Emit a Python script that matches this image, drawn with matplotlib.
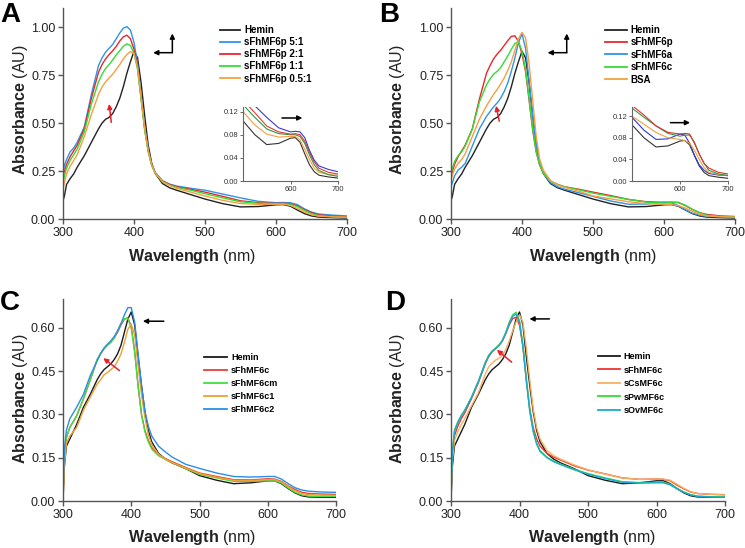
import numpy as np
import matplotlib
matplotlib.use('Agg')
import matplotlib.pyplot as plt

plt.rcParams['font.family'] = ['Liberation Sans', 'DejaVu Sans']
plt.rcParams['mathtext.fontset'] = 'custom'
plt.rcParams['mathtext.rm'] = 'Liberation Sans'
plt.rcParams['mathtext.bf'] = 'Liberation Sans:bold'

# ---------------------------------- DATA ----------------------------------- #
wl = [300, 302, 305, 310, 315, 320, 330, 340, 350, 355, 360, 365, 370, 375, 380,
      385, 390, 395, 400, 405, 410, 415, 420, 425, 430, 440, 450, 460, 480, 500,
      525, 550, 575, 600, 610, 620, 630, 640, 650, 660, 680, 700]

# panels A and B
hemin_ab = [.095, .12, .18, .21, .235, .27, .33, .40, .47, .50, .52, .53, .55, .585, .63,
            .69, .76, .82, .875, .84, .71, .54, .385, .29, .237, .185, .163, .15, .127, .104,
            .08, .063, .065, .074, .075, .067, .047, .028, .016, .01, .007, .005]
fh_5_1 = [.25, .28, .31, .35, .37, .40, .48, .65, .80, .84, .87, .89, .91, .94, .97,
          .995, 1.003, .985, .92, .81, .64, .48, .36, .285, .243, .20, .182, .172, .16, .15,
          .13, .11, .092, .085, .086, .085, .075, .053, .036, .026, .02, .016]
fh_2_1 = [.22, .25, .285, .325, .355, .385, .47, .63, .765, .805, .835, .857, .877, .90, .928,
          .95, .958, .94, .885, .79, .63, .47, .355, .28, .24, .198, .18, .168, .155, .14,
          .118, .095, .085, .081, .082, .08, .069, .049, .033, .022, .015, .012]
fh_1_1 = [.19, .225, .265, .305, .335, .365, .455, .60, .715, .755, .785, .805, .83, .855, .878,
          .90, .913, .905, .865, .78, .625, .465, .35, .278, .238, .195, .177, .165, .15, .132,
          .11, .09, .082, .08, .08, .077, .065, .045, .028, .018, .011, .008]
fh_05_1 = [.155, .19, .235, .275, .305, .335, .43, .545, .65, .688, .715, .735, .755, .78, .805,
           .835, .857, .873, .862, .79, .635, .475, .355, .28, .24, .195, .175, .16, .14, .12,
           .097, .081, .076, .077, .077, .071, .055, .037, .022, .015, .011, .01]

fh6p = [.22, .25, .285, .325, .355, .385, .47, .625, .76, .80, .835, .86, .88, .905, .93,
        .952, .955, .925, .86, .77, .62, .465, .35, .28, .24, .198, .18, .168, .155, .14,
        .122, .102, .09, .087, .088, .087, .07, .05, .033, .024, .016, .013]
fh6a = [.17, .19, .225, .255, .27, .29, .38, .47, .535, .56, .585, .605, .63, .665, .71,
        .77, .84, .92, .965, .89, .72, .54, .39, .295, .24, .19, .168, .155, .137, .118,
        .094, .077, .078, .087, .085, .07, .048, .03, .02, .014, .011, .01]
fh6c_b = [.24, .265, .30, .33, .35, .38, .47, .61, .70, .73, .755, .77, .79, .82, .85,
          .885, .915, .925, .875, .78, .63, .47, .35, .28, .238, .197, .18, .168, .152, .135,
          .118, .102, .088, .083, .085, .085, .072, .05, .033, .02, .013, .01]
bsa = [.20, .23, .26, .29, .31, .34, .43, .52, .59, .62, .65, .675, .705, .735, .775,
       .82, .88, .94, .973, .945, .81, .62, .43, .31, .255, .20, .178, .165, .145, .12,
       .105, .09, .08, .077, .075, .07, .057, .04, .025, .016, .012, .01]

# panels C and D
hemin_cd = [.0, .12, .19, .215, .24, .265, .325, .37, .42, .44, .455, .465, .475, .49, .51,
            .54, .585, .63, .655, .61, .50, .40, .31, .245, .205, .165, .145, .132, .112, .088,
            .072, .06, .063, .07, .07, .06, .043, .028, .018, .014, .013, .013]
fh6c_c = [.02, .15, .22, .255, .275, .295, .355, .42, .49, .51, .527, .54, .55, .565, .585,
          .61, .63, .635, .605, .52, .40, .30, .245, .21, .185, .16, .147, .136, .116, .097,
          .085, .074, .073, .077, .076, .068, .052, .04, .03, .026, .024, .023]
fh6cm = [.03, .16, .22, .255, .275, .295, .355, .42, .49, .512, .528, .54, .55, .565, .59,
         .615, .632, .632, .60, .515, .40, .30, .24, .205, .18, .157, .144, .133, .112, .092,
         .08, .068, .068, .07, .07, .062, .045, .03, .021, .017, .016, .016]
fh6c1 = [.0, .12, .20, .225, .24, .255, .315, .36, .405, .42, .437, .445, .455, .465, .485,
         .51, .55, .595, .613, .575, .47, .37, .29, .23, .195, .162, .145, .133, .114, .095,
         .082, .072, .071, .074, .074, .066, .05, .035, .026, .022, .02, .02]
fh6c2 = [.03, .18, .245, .285, .305, .325, .37, .435, .485, .51, .53, .543, .555, .57, .59,
         .615, .645, .67, .67, .62, .51, .40, .31, .26, .225, .19, .17, .152, .127, .113,
         .097, .085, .083, .085, .085, .076, .06, .046, .038, .034, .031, .03]

fh6c_d = [.02, .15, .225, .26, .285, .305, .355, .41, .475, .50, .517, .528, .54, .555, .58,
          .61, .632, .637, .61, .535, .42, .32, .255, .215, .19, .165, .152, .142, .122, .107,
          .094, .08, .075, .076, .075, .07, .055, .042, .031, .026, .023, .022]
cs6c = [.01, .14, .21, .24, .265, .285, .33, .375, .44, .465, .478, .488, .495, .505, .525,
        .555, .59, .62, .645, .62, .53, .42, .32, .255, .215, .175, .157, .145, .125, .108,
        .093, .08, .075, .076, .076, .072, .058, .044, .032, .026, .023, .021]
pw6c = [.03, .17, .245, .275, .297, .315, .36, .415, .48, .505, .52, .53, .54, .557, .585,
        .62, .645, .654, .625, .54, .42, .315, .245, .20, .175, .152, .138, .128, .11, .095,
        .08, .067, .064, .065, .065, .058, .044, .031, .022, .017, .015, .014]
ov6c = [.02, .17, .24, .272, .295, .313, .36, .415, .478, .503, .518, .528, .538, .555, .582,
        .615, .64, .648, .62, .535, .415, .31, .24, .197, .172, .15, .136, .126, .108, .093,
        .078, .065, .062, .063, .063, .056, .042, .03, .021, .016, .014, .013]

labels_a = ['Hemin', 'sFhMF6p 5:1', 'sFhMF6p 2:1', 'sFhMF6p 1:1', 'sFhMF6p 0.5:1']
labels_b = ['Hemin', 'sFhMF6p', 'sFhMF6a', 'sFhMF6c', 'BSA']
labels_c = ['Hemin', 'sFhMF6c', 'sFhMF6cm', 'sFhMF6c1', 'sFhMF6c2']
labels_d = ['Hemin', 'sFhMF6c', 'sCsMF6c', 'sPwMF6c', 'sOvMF6c']

# --------------------------------- HELPERS --------------------------------- #
W, H = 745, 548
fig = plt.figure(figsize=(W / 100, H / 100), dpi=100)


def px_axes(left, top, right, bottom):
    return fig.add_axes((left / W, 1 - bottom / H, (right - left) / W, (bottom - top) / H))


def style(ax, ymax, yticks, xlab_x, ylab_x, ylab_y, xlab_y):
    ax.set_xlim(300, 700)
    ax.set_ylim(0, ymax)
    ax.set_xticks([300, 400, 500, 600, 700])
    ax.set_yticks(yticks)
    ax.yaxis.set_major_formatter(matplotlib.ticker.FormatStrFormatter('%.2f'))
    for s in ['top', 'right']:
        ax.spines[s].set_visible(False)
    for s in ['left', 'bottom']:
        ax.spines[s].set_color('#555555')
        ax.spines[s].set_linewidth(1.0)
    ax.tick_params(direction='out', length=3.5, width=1.0, color='#555555',
                   labelsize=9, labelcolor='#222222', pad=2)
    ax.set_xlabel(r'$\mathbf{Wavelength}$ (nm)', fontsize=11.5, color='#222222', va='center')
    ax.set_ylabel(r'$\mathbf{Absorbance}$ (AU)', fontsize=11.5, color='#222222', va='center')
    ax.xaxis.set_label_coords(xlab_x, xlab_y)
    ax.yaxis.set_label_coords(ylab_x, ylab_y)


def arrow(ax, tail, tip, color):
    ax.annotate('', xy=tip, xytext=tail,
                arrowprops=dict(arrowstyle='-|>', color=color, lw=1.1,
                                mutation_scale=7, shrinkA=0, shrinkB=0))


def legend(ax, x, y, size, hl, spacing):
    leg = ax.legend(loc='upper left', bbox_to_anchor=(x / W, 1 - y / H),
                    bbox_transform=fig.transFigure, frameon=False,
                    prop=dict(weight='bold', size=size), handlelength=hl,
                    handletextpad=0.4, labelspacing=spacing, borderpad=0, borderaxespad=0)
    for line in leg.get_lines():
        line.set_linewidth(1.3)


def inset(left, top, right, bottom, ymax, curves, colors, arrow_pts):
    ins = px_axes(left, top, right, bottom)
    for vals, c in zip(curves, colors):
        ins.plot(wl, vals, color=c, lw=0.8)
    ins.set_xlim(500, 700)
    ins.set_ylim(0, ymax)
    ins.set_xticks([600, 700])
    ins.set_yticks([0, 0.04, 0.08, 0.12])
    ins.yaxis.set_major_formatter(matplotlib.ticker.FormatStrFormatter('%.2f'))
    for s in ['top', 'right']:
        ins.spines[s].set_visible(False)
    for s in ['left', 'bottom']:
        ins.spines[s].set_color('#666666')
        ins.spines[s].set_linewidth(0.8)
    ins.tick_params(direction='out', length=2, width=0.7, color='#666666',
                    labelsize=5.5, labelcolor='#333333', pad=1.5)
    arrow(ins, arrow_pts[0], arrow_pts[1], 'black')
    return ins


# --------------------------------- PANEL A --------------------------------- #
ax = px_axes(63, 8, 347, 219)
cols_a = ['#222222', '#2f93ea', '#e8262e', '#35dc35', '#f5a040']
for vals, c, lab in zip([hemin_ab, fh_5_1, fh_2_1, fh_1_1, fh_05_1], cols_a, labels_a):
    ax.plot(wl, vals, color=c, lw=1.0, label=lab)
style(ax, 1.1, [0, 0.25, 0.5, 0.75, 1.0], 0.455, -0.151, 0.52, -0.18)
legend(ax, 220, 25, 7, 2.1, 0.22)
arrow(ax, (454, 0.867), (427, 0.867), 'black')
arrow(ax, (454, 0.867), (454, 0.967), 'black')
arrow(ax, (368, 0.504), (365, 0.60), '#e8202a')
inset(243, 107, 338, 181, 0.128, [hemin_ab, fh_05_1, fh_1_1, fh_2_1, fh_5_1],
      ['#333333', '#f0a040', '#2e9a40', '#e03a3a', '#3a3ad0'], [(582, 0.109), (625, 0.109)])
fig.text(0 / W, 1 - 2 / H, 'A', fontsize=20, weight='bold', ha='left', va='top')

# --------------------------------- PANEL B --------------------------------- #
ax = px_axes(451, 8, 735, 219)
cols_b = ['#222222', '#e8262e', '#2f93ea', '#35dc35', '#f5a040']
for vals, c, lab in zip([hemin_ab, fh6p, fh6a, fh6c_b, bsa], cols_b, labels_b):
    ax.plot(wl, vals, color=c, lw=1.0, label=lab)
style(ax, 1.1, [0, 0.25, 0.5, 0.75, 1.0], 0.5, -0.19, 0.52, -0.18)
legend(ax, 605, 25, 7, 2.25, 0.25)
arrow(ax, (463, 0.867), (436, 0.867), 'black')
arrow(ax, (463, 0.867), (463, 0.967), 'black')
arrow(ax, (368, 0.51), (363.5, 0.59), '#e8202a')
inset(632, 107, 728, 181, 0.137, [hemin_ab, fh6a, bsa, fh6c_b, fh6p],
      ['#333333', '#2a3ad6', '#f0a040', '#2e9a40', '#e03030'], [(580, 0.108), (621, 0.108)])
fig.text(379 / W, 1 - 2 / H, 'B', fontsize=20, weight='bold', ha='left', va='top')

# --------------------------------- PANEL C --------------------------------- #
ax = px_axes(63, 299, 336, 501)
cols_c = ['#1a1a1a', '#ee3b3b', '#40e040', '#f0a030', '#2b8ee6']
for vals, c, lab in zip([hemin_cd, fh6c_c, fh6cm, fh6c1, fh6c2], cols_c, labels_c):
    ax.plot(wl, vals, color=c, lw=1.0, label=lab)
style(ax, 0.7, [0, 0.15, 0.3, 0.45, 0.6], 0.471, -0.157, 0.508, -0.18)
legend(ax, 204, 353, 6.5, 2.6, 0.45)
arrow(ax, (447.7, 0.623), (417, 0.623), 'black')
arrow(ax, (382.7, 0.452), (359, 0.495), '#e8202a')
fig.text(0 / W, 1 - 290 / H, 'C', fontsize=20, weight='bold', ha='left', va='top')

# --------------------------------- PANEL D --------------------------------- #
ax = px_axes(451, 299, 725, 501)
cols_d = ['#1a1a1a', '#ee3333', '#f7b060', '#33dd33', '#1aa8d8']
for vals, c, lab in zip([hemin_cd, fh6c_d, cs6c, pw6c, ov6c], cols_d, labels_d):
    ax.plot(wl, vals, color=c, lw=1.0, label=lab)
style(ax, 0.7, [0, 0.15, 0.3, 0.45, 0.6], 0.515, -0.197, 0.508, -0.18)
legend(ax, 598, 352, 6.5, 2.4, 0.5)
arrow(ax, (443.6, 0.631), (414.5, 0.631), 'black')
arrow(ax, (388.6, 0.481), (367, 0.524), '#e8202a')
fig.text(385 / W, 1 - 290 / H, 'D', fontsize=20, weight='bold', ha='left', va='top')

fig.savefig('out.png', dpi=100)
